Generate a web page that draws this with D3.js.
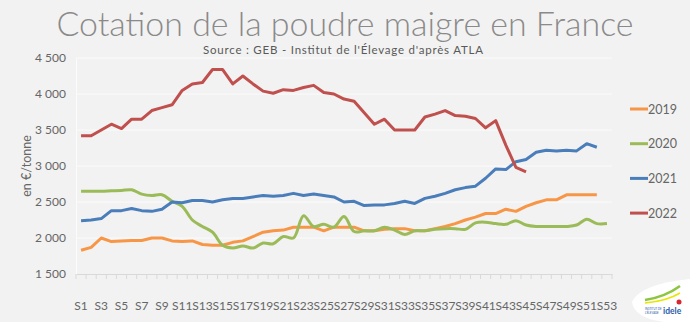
<!DOCTYPE html>
<html><head><meta charset="utf-8">
<script src="https://cdn.jsdelivr.net/npm/d3@7"></script>
<style>
html,body{margin:0;padding:0;background:#f2f2f2;}
svg{display:block;font-family:Lato,"Open Sans",sans-serif;}
</style></head>
<body>
<svg id="chart" width="690" height="322"></svg>
<script>
const weeks = d3.range(1, 54).map(i => "S" + i);
const yTicks = [1500, 2000, 2500, 3000, 3500, 4000, 4500];
const seriesNames = ["2019", "2020", "2021", "2022"];
const colors = ["#F79646", "#9BBB59", "#4A7EBB", "#C0504D"];

const v2019 = [1830,1870,2000,1950,1960,1965,1965,2000,2000,1960,1950,1960,1910,1900,1900,1940,1960,2020,2080,2100,2110,2150,2150,2150,2100,2150,2150,2150,2100,2100,2120,2130,2130,2100,2100,2130,2160,2200,2250,2290,2340,2340,2400,2370,2440,2490,2530,2530,2600,2600,2600,2600];
const v2020 = [2650,2650,2650,2655,2660,2670,2610,2590,2600,2510,2440,2250,2160,2080,1900,1860,1890,1860,1930,1920,2020,2000,2310,2160,2190,2150,2300,2090,2100,2100,2150,2110,2050,2100,2100,2120,2130,2130,2120,2210,2220,2200,2190,2240,2180,2160,2160,2160,2160,2180,2260,2200,2200];
const v2021 = [2240,2250,2270,2380,2380,2410,2380,2370,2400,2500,2490,2520,2520,2500,2530,2550,2550,2570,2590,2580,2590,2620,2590,2610,2590,2570,2500,2510,2450,2460,2460,2480,2510,2480,2550,2580,2620,2670,2700,2720,2830,2960,2950,3060,3090,3190,3220,3210,3220,3210,3310,3260];
const v2022 = [3420,3420,3500,3580,3520,3650,3650,3770,3810,3850,4050,4140,4160,4340,4340,4140,4250,4140,4040,4010,4060,4050,4090,4120,4020,4000,3930,3900,3740,3580,3650,3500,3500,3500,3680,3720,3770,3700,3690,3660,3530,3630,3290,2980,2920];
const allValues = [v2019, v2020, v2021, v2022];

const svg = d3.select("#chart");
const pLeft = 76, pRight = 612, pTop = 58, pBottom = 274;

const x = d3.scaleBand().domain(weeks).range([pLeft, pRight]).padding(0);
const y = d3.scaleLinear().domain([1500, 4500]).range([pBottom, pTop]);
const cx = d => x(d) + x.bandwidth() / 2;

const loc = d3.formatLocale({decimal: ",", thousands: "\u00a0", grouping: [3], currency: ["", "€"]});
const fmt = loc.format(",");

// title
svg.append("text").attr("x", 345).attr("y", 36).attr("text-anchor", "middle")
  .attr("font-size", 34).attr("font-weight", 300).attr("fill", "#8a8a8a")
  .attr("textLength", 577).attr("lengthAdjust", "spacingAndGlyphs")
  .text("Cotation de la poudre maigre en France");
svg.append("text").attr("x", 343).attr("y", 54).attr("text-anchor", "middle")
  .attr("font-size", 11.5).attr("fill", "#595959")
  .attr("textLength", 280).attr("lengthAdjust", "spacing")
  .text("Source : GEB - Institut de l'Élevage d'après ATLA");

// gridlines
svg.append("g").selectAll("line").data(yTicks.slice(1)).join("line")
  .attr("x1", pLeft).attr("x2", pRight).attr("y1", d => y(d)).attr("y2", d => y(d))
  .attr("stroke", "#fbfbfb").attr("stroke-width", 1);

// y axis
const yAxis = svg.append("g").attr("transform", `translate(${pLeft},0)`)
  .call(d3.axisLeft(y).tickValues(yTicks).tickFormat(fmt).tickSize(0).tickPadding(10));
yAxis.select(".domain").attr("stroke", "#fbfbfb");
yAxis.selectAll("text").attr("font-size", 12).attr("fill", "#666666").attr("font-family", "Lato,sans-serif");

svg.append("text").attr("transform", "translate(31,166) rotate(-90)").attr("text-anchor", "middle")
  .attr("font-size", 12.5).attr("fill", "#666666").text("en €/tonne");

// x axis
const xAxis = svg.append("g").attr("transform", `translate(0,${pBottom})`)
  .call(d3.axisBottom(x).tickValues(weeks.filter((d, i) => i % 2 === 0)).tickSize(0).tickPadding(27));
xAxis.select(".domain").attr("stroke", "#d9d9d9");
xAxis.selectAll("text").attr("font-size", 12).attr("fill", "#666666").attr("font-family", "Lato,sans-serif");
svg.append("g").selectAll("line").data(weeks.concat(["end"])).join("line")
  .attr("x1", d => d === "end" ? pRight : x(d)).attr("x2", d => d === "end" ? pRight : x(d))
  .attr("y1", pBottom).attr("y2", pBottom + 5).attr("stroke", "#d9d9d9");

// lines
allValues.forEach((vals, si) => {
  const line = d3.line().x((d, i) => cx(weeks[i])).y(d => y(d))
    .curve(si === 1 ? d3.curveCatmullRom.alpha(0.5) : d3.curveLinear);
  svg.append("path").datum(vals).attr("d", line).attr("fill", "none")
    .attr("stroke", colors[si]).attr("stroke-width", 3).attr("stroke-linejoin", "round");
});

// legend
const leg = svg.append("g").selectAll("g").data(seriesNames).join("g")
  .attr("transform", (d, i) => `translate(630,${109 + i * 34.7})`);
leg.append("line").attr("x1", 0).attr("x2", 18).attr("stroke", (d, i) => colors[i]).attr("stroke-width", 3);
leg.append("text").attr("x", 18).attr("y", 4.5).attr("font-size", 12.5).attr("fill", "#666666").text(d => d);

// logo
const logo = svg.append("g");
logo.append("path").attr("d", "M632,302 Q640,284 690,279 L690,322 L664,322 Q634,318 632,302 Z").attr("fill", "#ffffff");
logo.append("path").attr("d", "M645,300 Q665,297 680,286").attr("fill", "none").attr("stroke", "#8cc63f").attr("stroke-width", 2.5);
logo.append("path").attr("d", "M645,303 Q667,301 680,293").attr("fill", "none").attr("stroke", "#e6e600").attr("stroke-width", 1.5);
logo.append("text").attr("x", 663).attr("y", 314).attr("font-size", 8.5).attr("font-weight", 700).attr("fill", "#2a5caa").text("idele");
logo.append("text").attr("x", 645).attr("y", 310).attr("font-size", 2.8).attr("fill", "#2a5caa").text("INSTITUT DE");
logo.append("text").attr("x", 645).attr("y", 314).attr("font-size", 2.8).attr("fill", "#2a5caa").text("L'ÉLEVAGE");
logo.append("circle").attr("cx", 679).attr("cy", 302).attr("r", 2.5).attr("fill", "#d7282f");
</script>
</body></html>
